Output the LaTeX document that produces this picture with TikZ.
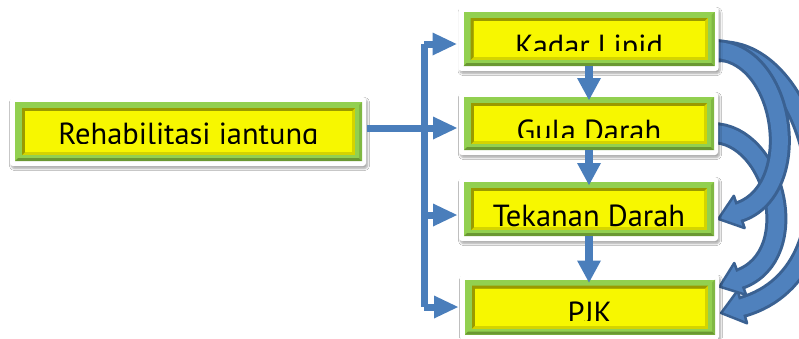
\documentclass[tikz,border=0pt]{standalone}
\usepackage{fontspec}
\setmainfont{PT Sans}
\usetikzlibrary{arrows.meta,decorations.markings,shadows.blur}
\definecolor{grn}{HTML}{92D050}
\definecolor{grnd}{HTML}{6A9832}
\definecolor{grnm}{HTML}{80B843}
\definecolor{ylw}{HTML}{F7F700}
\definecolor{olv}{HTML}{9A9A00}
\definecolor{olvl}{HTML}{D4D400}
\definecolor{blu}{HTML}{4A7EBB}
\definecolor{bluf}{HTML}{4F81BD}
\definecolor{blud}{HTML}{3A6192}
\tikzset{
  greenbox/.style={fill=grn, inner sep=0pt, outer sep=0pt, draw=none},
  conn/.style={draw=blu, line width=7pt},
  conarr/.style={draw=blu, line width=7pt, -{Triangle[length=24pt,width=23pt,line width=0pt]}, shorten >=7pt},
  downarr/.style={draw=blu, line width=8pt, -{Triangle[length=22pt,width=24pt,line width=0pt]}, shorten >=-3pt},
  lbl/.style={anchor=base, font=\fontsize{30.5}{32}\selectfont, text=black, inner sep=0pt},
  curved/.style={preaction={draw=blud, line width=22pt}, draw=bluf, line width=16pt,
    postaction={decorate, decoration={markings, mark=at position 0.999 with {\arrhead}}}}
}
\newcommand\arrhead{%
  \fill[bluf] (-1,-17) -- (22,0) -- (-1,17) -- cycle;
  \draw[blud, line width=2.5pt, line join=round] (0,-8) -- (0,-17) -- (22,0) -- (0,17) -- (0,8);}
\newcommand\diabox[8]{%
  \fill[white, rounded corners=3pt, blur shadow={shadow xshift=1.5pt, shadow yshift=-2.5pt, shadow blur steps=6, shadow opacity=35}] ({#2-#4/2-5},{#3-#5/2-5}) rectangle ({#2+#4/2+4},{#3+#5/2+5});
  \node[greenbox, minimum width=#4pt, minimum height=#5pt] (#1) at (#2,#3) {};
  \fill[grnd] (#1.south west) -- (#1.south east) -- ([shift={(-3pt,3pt)}]#1.south east) -- ([shift={(3pt,3pt)}]#1.south west) -- cycle;
  \fill[grnm] (#1.south east) -- (#1.north east) -- ([shift={(-3pt,-3pt)}]#1.north east) -- ([shift={(-3pt,3pt)}]#1.south east) -- cycle;
  \fill[olvl] ([shift={(7pt,6pt)}]#1.south west) rectangle ([shift={(-7pt,-6pt)}]#1.north east);
  \fill[olv] ([shift={(7pt,6pt)}]#1.south west) -- ([shift={(7pt,-6pt)}]#1.north west) -- ([shift={(-7pt,-6pt)}]#1.north east) -- ([shift={(-10pt,-9pt)}]#1.north east) -- ([shift={(10pt,-9pt)}]#1.north west) -- ([shift={(10pt,9pt)}]#1.south west) -- cycle;
  \fill[ylw] ([shift={(10pt,9pt)}]#1.south west) rectangle ([shift={(-10pt,-9pt)}]#1.north east);
  \begin{scope}
    \clip ({#2-#4/2},{#3-#5/2}) rectangle ({#2+#4/2},#8);
    \node[lbl] (#1t) at (#2,#7) {#6};
  \end{scope}
}
\begin{document}
\begin{tikzpicture}[x=1pt,y=-1pt]
\useasboundingbox (0,0) rectangle (799,338);
\fill[white] (0,0) rectangle (799,338);
% curved arrows (drawn first, start hidden under the boxes)
\path[curved] (712,52) .. controls (812,36) and (872,270) .. (742,307);
\path[curved] (712,133) .. controls (775,133) and (805,255) .. (740,279);
\path[curved] (712,50) .. controls (786,48) and (806,190) .. (739,212);
% boxes
\diabox{rehab}{188.5}{131.5}{347}{59}{Rehabilitasi jantung}{144.5}{143.5}
\diabox{kadar}{589}{39}{251}{54}{Kadar Lipid}{56.4}{50}
\diabox{gula}{589}{123.5}{250}{53}{Gula Darah}{141.4}{137}
\diabox{tekanan}{589}{209}{250}{54}{Tekanan Darah}{226.4}{226.5}
\diabox{pjk}{590}{307}{250}{55}{PJK}{323.4}{320}
% bracket
\coordinate (j1) at (424,44);
\coordinate (jm) at (424,128);
\coordinate (j3) at (424,215);
\coordinate (j4) at (424,307);
\coordinate (rs) at ([xshift=5pt]rehab.east |- jm);
\draw[conn] (rs) -- (jm);
\draw[conn, line cap=square] (j1) -- (j4);
\draw[conarr] (j1) -- (kadar.west |- j1);
\draw[conarr] (jm) -- (gula.west |- jm);
\draw[conarr] (j3) -- (tekanan.west |- j3);
\draw[conarr] (j4) -- (pjk.west |- j4);
% down arrows
\draw[downarr] (kadar.south) -- (kadar.south |- gula.north);
\draw[downarr] (gula.south) -- (gula.south |- tekanan.north);
\draw[downarr] (tekanan.south) -- (tekanan.south |- pjk.north);
\end{tikzpicture}
\end{document}
